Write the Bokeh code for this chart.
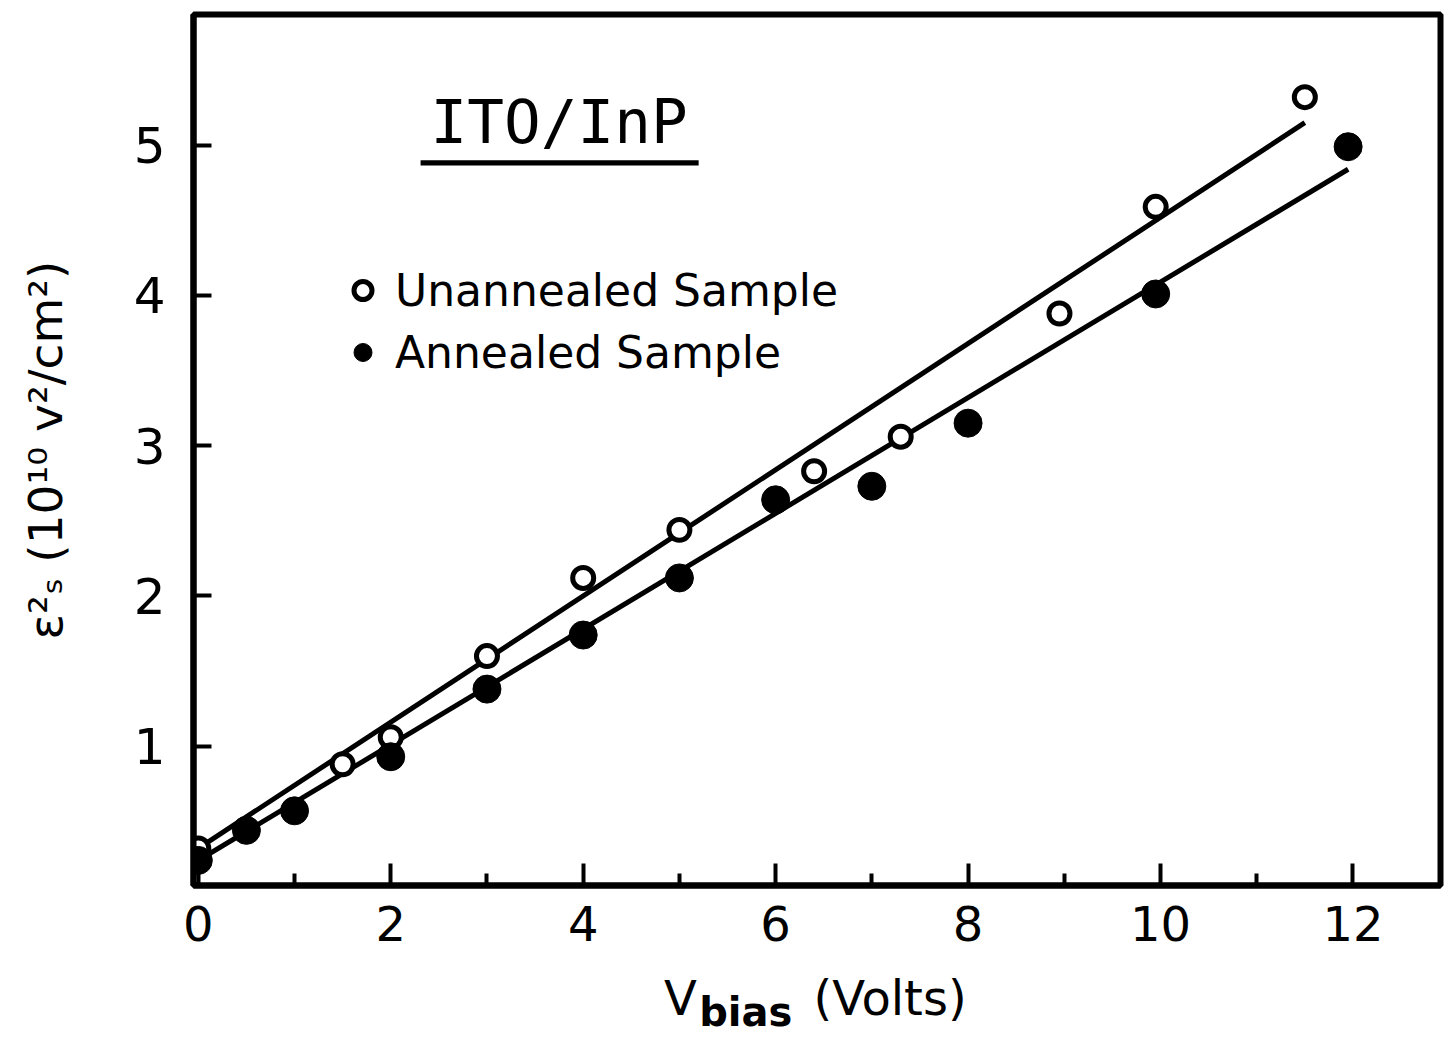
from bokeh.plotting import figure
from bokeh.models import (Range1d, FixedTicker, Label, BoxAnnotation, Legend, LegendItem,
                          LinearAxis)
from bokeh.embed import file_html
from bokeh.resources import INLINE

# ---- data ----
unann_v = [0.0, 1.5, 2.0, 3.0, 4.0, 5.0, 6.4, 7.3, 8.95, 9.95, 11.5]
unann_e = [0.32, 0.88, 1.06, 1.60, 2.12, 2.44, 2.83, 3.06, 3.88, 4.59, 5.32]
ann_v = [0.0, 0.5, 1.0, 2.0, 3.0, 4.0, 5.0, 6.0, 7.0, 8.0, 9.95, 11.95]
ann_e = [0.24, 0.44, 0.57, 0.93, 1.38, 1.74, 2.12, 2.64, 2.73, 3.15, 4.01, 4.99]
fit_unann_v = [0.0, 11.5]
fit_unann_e = [0.32, 5.15]
fit_ann_v = [0.0, 11.95]
fit_ann_e = [0.24, 4.84]
x_ticks = [0, 2, 4, 6, 8, 10, 12]
x_minor_ticks = [1, 3, 5, 7, 9, 11]
y_ticks = [1, 2, 3, 4, 5]

p = figure(width=1444, height=1042, output_backend="svg", toolbar_location=None,
           x_range=Range1d(-0.05, 12.91), y_range=Range1d(0.073, 5.87),
           min_border_left=193, min_border_right=4, min_border_top=14, min_border_bottom=157)

p.background_fill_color = "white"
p.border_fill_color = "white"
p.outline_line_color = "black"
p.outline_line_width = 6
p.xgrid.visible = False
p.ygrid.visible = False

xa = p.xaxis[0]
xa.ticker = FixedTicker(ticks=x_ticks, minor_ticks=x_minor_ticks)
xa.axis_line_width = 6
xa.major_tick_in = 22
xa.major_tick_out = 0
xa.major_tick_line_width = 4
xa.minor_tick_in = 12
xa.minor_tick_out = 0
xa.minor_tick_line_width = 4
xa.major_label_text_font = "DejaVu Sans"
xa.major_label_text_font_size = "48px"
xa.major_label_text_color = "black"
xa.major_label_standoff = 20

ya = p.yaxis[0]
ya.ticker = FixedTicker(ticks=y_ticks)
ya.axis_line_width = 6
ya.major_tick_in = 18
ya.major_tick_out = 0
ya.major_tick_line_width = 4
ya.minor_tick_in = 0
ya.minor_tick_out = 0
ya.major_label_text_font = "DejaVu Sans"
ya.major_label_text_font_size = "50px"
ya.major_label_text_color = "black"
ya.major_label_standoff = 28
ya.axis_label = "ε²ₛ (10¹⁰ v²/cm²)"
ya.axis_label_text_font = "DejaVu Sans"
ya.axis_label_text_font_size = "47px"
ya.axis_label_text_font_style = "normal"
ya.axis_label_text_color = "black"
ya.axis_label_standoff = 58


def text_axis(ticks, labels, size, standoff, style="normal"):
    ax = LinearAxis(ticker=FixedTicker(ticks=ticks, minor_ticks=[]),
                    major_label_overrides=dict(zip(ticks, labels)))
    ax.axis_line_color = None
    ax.major_tick_line_color = None
    ax.minor_tick_line_color = None
    ax.major_tick_in = 0
    ax.major_tick_out = 0
    ax.minor_tick_in = 0
    ax.minor_tick_out = 0
    ax.major_label_text_font = "DejaVu Sans"
    ax.major_label_text_font_size = size
    ax.major_label_text_font_style = style
    ax.major_label_text_color = "black"
    ax.major_label_standoff = standoff
    return ax


# x-axis title: "V" with subscript "bias", then "(Volts)"
p.add_layout(text_axis([5.01, 7.19], ["V", "(Volts)"], "48px", 26), "below")
p.add_layout(text_axis([5.69], ["bias"], "40px", -40, "bold"), "below")

# fit lines
p.line(fit_unann_v, fit_unann_e, line_color="black", line_width=5)
p.line(fit_ann_v, fit_ann_e, line_color="black", line_width=5)

# data points
r_open = p.scatter(unann_v, unann_e, marker="circle", size=21, fill_color="white",
                   line_color="black", line_width=5)
r_fill = p.scatter(ann_v, ann_e, marker="circle", size=28, fill_color="black",
                   line_color="black", line_width=1)

legend = Legend(items=[LegendItem(label="Unannealed Sample", renderers=[r_open]),
                       LegendItem(label="Annealed Sample", renderers=[r_fill])],
                location=(147, 507), glyph_width=45, glyph_height=52, spacing=10,
                label_standoff=10, padding=0, margin=0,
                label_text_font="DejaVu Sans", label_text_font_size="44px",
                label_text_color="black", border_line_alpha=0, background_fill_alpha=0)
p.add_layout(legend)

# title inside the frame, underlined
p.add_layout(Label(x=3.75, y=5.155, text="ITO/InP", text_font="DejaVu Sans Mono",
                   text_font_size="61px", text_align="center", text_baseline="alphabetic",
                   text_color="black"))
p.add_layout(BoxAnnotation(left=2.31, right=5.2, bottom=4.865, top=4.90,
                           fill_color="black", fill_alpha=1, line_alpha=0))

open("out.html", "w").write(file_html(p, INLINE))
